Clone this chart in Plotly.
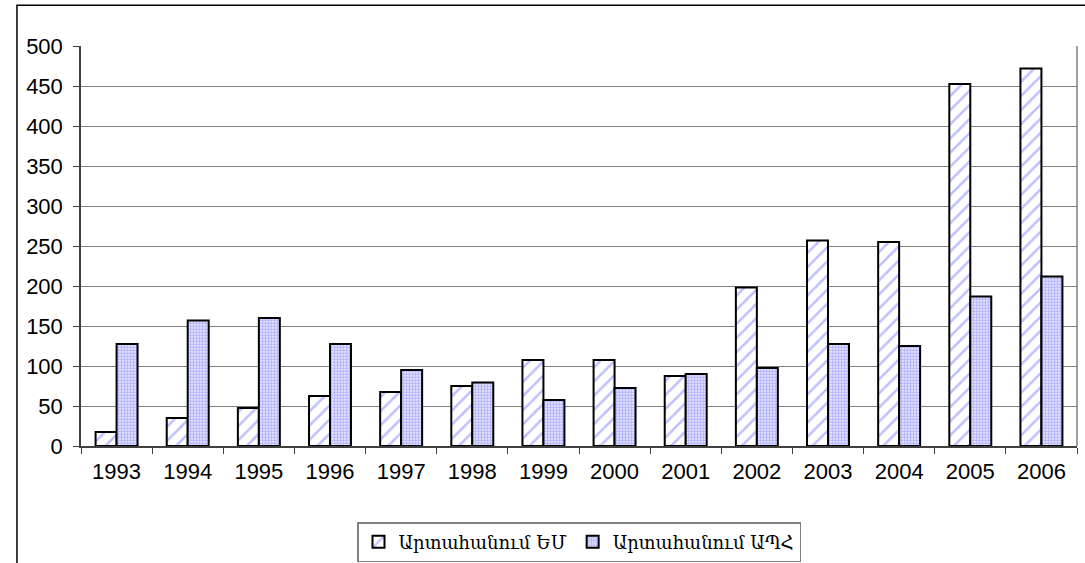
import plotly.graph_objects as go

# years and export values
years = ["1993", "1994", "1995", "1996", "1997", "1998", "1999",
         "2000", "2001", "2002", "2003", "2004", "2005", "2006"]
export_eu = [17.5, 35, 47.5, 62.5, 67.5, 75, 107.5, 107.5, 87.5, 198, 257, 255, 452.5, 472]
export_cis = [127.5, 157, 160, 127.5, 95, 79.5, 57.5, 72.5, 90, 97.5, 127.5, 125, 187, 212]

fig = go.Figure()
fig.add_trace(go.Bar(
    x=years, y=export_eu, name="Արտահանում ԵՄ",
    marker=dict(color="white",
                line=dict(color="black", width=2),
                pattern=dict(shape="/", fgcolor="#8080ff", bgcolor="white",
                             size=10, solidity=0.25)),
))
fig.add_trace(go.Bar(
    x=years, y=export_cis, name="Արտահանում ԱՊՀ",
    marker=dict(color="white",
                line=dict(color="black", width=2),
                pattern=dict(shape=".", fgcolor="#6a6aff", bgcolor="white",
                             size=3, solidity=0.7)),
))

fig.update_layout(
    width=1085, height=563,
    margin=dict(l=81, r=8, t=46, b=117, autoexpand=False),
    paper_bgcolor="white", plot_bgcolor="white",
    barmode="group", bargap=0.41, bargroupgap=0,
    font=dict(family="Liberation Sans, Arial", size=22, color="black"),
    legend=dict(orientation="h", x=0.5, xanchor="center", y=-0.19, yanchor="top",
                bordercolor="#808080", borderwidth=1.5, bgcolor="white",
                font=dict(family="DejaVu Serif", size=18), itemwidth=30,
                tracegroupgap=0, traceorder="normal"),
    xaxis=dict(showline=True, linecolor="#404040", linewidth=1.5,
               ticks="outside", tickson="boundaries", ticklen=6,
               tickcolor="#404040", showgrid=False, ticklabelstandoff=5,
               automargin=False),
    yaxis=dict(range=[0, 500], dtick=50, showline=True, linecolor="#404040",
               linewidth=1.5, ticks="outside", ticklen=6, tickcolor="#404040",
               gridcolor="#808080", gridwidth=1.2, zeroline=False,
               ticklabelstandoff=6, automargin=False),
    shapes=[
        # right edge of plot area
        dict(type="line", xref="paper", yref="paper", x0=1, x1=1, y0=0, y1=1,
             line=dict(color="#808080", width=1.5)),
        # outer chart border (cropped at right and bottom)
        dict(type="rect", xref="paper", yref="paper",
             x0=-0.0643, x1=1.05, y0=-0.5, y1=1.1018,
             line=dict(color="black", width=1.5)),
    ],
)

fig.write_html("out.html", config={"displayModeBar": False},
               post_script="document.body.style.margin='0px';")
